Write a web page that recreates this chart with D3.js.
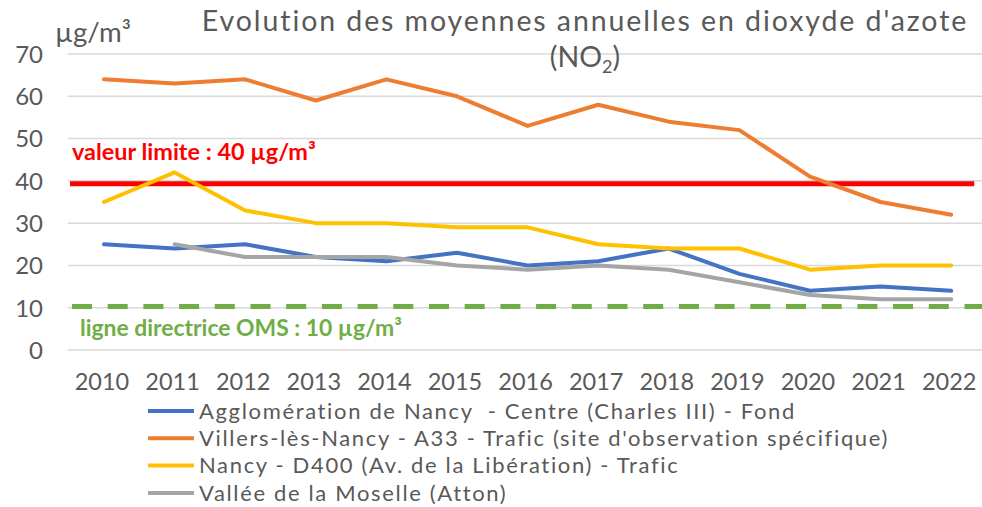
<!DOCTYPE html>
<html><head><meta charset="utf-8">
<script src="https://cdn.jsdelivr.net/npm/d3@7"></script>
<style>
html,body{margin:0;padding:0;background:#fff;}
svg{display:block;font-family:Lato, "Open Sans", sans-serif;}
</style></head>
<body>
<svg id="chart" width="982" height="507"></svg>
<script>
const years = ["2010","2011","2012","2013","2014","2015","2016","2017","2018","2019","2020","2021","2022"];
const yTicks = [0,10,20,30,40,50,60,70];
const seriesNames = [
  "Agglomération de Nancy  - Centre (Charles III) - Fond",
  "Villers-lès-Nancy - A33 - Trafic (site d'observation spécifique)",
  "Nancy - D400 (Av. de la Libération) - Trafic",
  "Vallée de la Moselle (Atton)"
];
const agglomerationNancy = [25,24,25,22,21,23,20,21,24,18,14,15,14];
const villersA33 = [64,63,64,59,64,60,53,58,54,52,41,35,32];
const nancyD400 = [35,42,33,30,30,29,29,25,24,24,19,20,20];
const valleeMoselle = [null,25,22,22,22,20,19,20,19,16,13,12,12];
const seriesColors = ["#4472C4","#ED7D31","#FFC000","#A5A5A5"];
const limitValue = 39.3;   // drawn reference line (label 40)
const omsValue = 10.3;     // drawn reference line (label 10)
const limitLabel = "valeur limite : 40 µg/m³";
const omsLabel = "ligne directrice OMS : 10 µg/m³";

const allSeries = [agglomerationNancy, villersA33, nancyD400, valleeMoselle];

const svg = d3.select("#chart");
const plotL = 68.7, plotR = 986.5, plotT = 54, plotB = 350;
const x = d3.scaleBand().domain(years).range([plotL, plotR]).padding(0);
const cx = d => x(d) + x.bandwidth()/2;
const y = d3.scaleLinear().domain([0,70]).range([plotB, plotT]);

function fit(sel, w){
  const n = sel.node();
  const fs = parseFloat(sel.attr("font-size"));
  const len = n.getComputedTextLength();
  sel.attr("font-size", fs * w / len);
}
function spread(sel, w, text){
  const len = sel.node().getComputedTextLength();
  sel.attr("letter-spacing", Math.max(0, (w - len) / (text.length - 1)));
}

// grid
svg.append("g").selectAll("line").data(yTicks).join("line")
  .attr("x1", plotL - 1).attr("x2", 982)
  .attr("y1", d => y(d)).attr("y2", d => y(d))
  .attr("stroke", "#d9d9d9").attr("stroke-width", 1.5);

// y axis labels
const yAxis = svg.append("g").attr("transform", "translate(43,0)")
  .call(d3.axisLeft(y).tickValues(yTicks).tickSize(0).tickPadding(0));
yAxis.select(".domain").remove();
yAxis.selectAll("text").attr("font-size", 24).attr("fill", "#595959")
  .attr("font-family", "Lato").attr("dy", "0.35em");

// x axis labels
const xAxis = svg.append("g").attr("transform", `translate(0,${plotB})`)
  .call(d3.axisBottom(x).tickSize(0).tickPadding(0));
xAxis.select(".domain").remove();
xAxis.selectAll("text").attr("font-size", 23.5).attr("fill", "#595959")
  .attr("font-family", "Lato").attr("y", 0).attr("dy", 0)
  .attr("transform", "translate(-2,40)");

// reference lines
svg.append("line").attr("x1", 70).attr("x2", cx("2022") + 23)
  .attr("y1", y(limitValue)).attr("y2", y(limitValue))
  .attr("stroke", "#FF0000").attr("stroke-width", 5);
svg.append("line").attr("x1", 72).attr("x2", 990)
  .attr("y1", y(omsValue)).attr("y2", y(omsValue))
  .attr("stroke", "#70AD47").attr("stroke-width", 5)
  .attr("stroke-dasharray", "20,15.7");

// series lines
const line = d3.line().defined(d => d.v != null)
  .x(d => cx(d.year)).y(d => y(d.v));
allSeries.forEach((s, i) => {
  svg.append("path")
    .datum(years.map((yr, j) => ({year: yr, v: s[j]})))
    .attr("d", line).attr("fill", "none")
    .attr("stroke", seriesColors[i]).attr("stroke-width", 4)
    .attr("stroke-linejoin", "round").attr("stroke-linecap", "round");
});

// reference labels
const lt = svg.append("text").attr("x", 72).attr("y", 160)
  .attr("font-size", 19).attr("font-weight", "bold").attr("fill", "#FF0000")
  .text(limitLabel);
fit(lt, 244);
const ot = svg.append("text").attr("x", 80).attr("y", 336)
  .attr("font-size", 19).attr("font-weight", "bold").attr("fill", "#70AD47")
  .text(omsLabel);
fit(ot, 322);

// unit label
const ul = svg.append("text").attr("x", 55).attr("y", 42)
  .attr("font-size", 22).attr("fill", "#595959").text("µg/m³");
fit(ul, 76);

// title
const title1 = "Evolution des moyennes annuelles en dioxyde d'azote";
const t1 = svg.append("text").attr("x", 585).attr("y", 31)
  .attr("text-anchor", "middle").attr("font-size", 28.5).attr("fill", "#595959")
  .text(title1);
spread(t1, 765, title1);
const t2 = svg.append("text").attr("x", 585).attr("y", 67)
  .attr("text-anchor", "middle").attr("font-size", 28.5).attr("fill", "#595959");
t2.append("tspan").text("(NO");
t2.append("tspan").attr("font-size", 18).attr("dy", 6).text("2");
t2.append("tspan").attr("dy", -6).text(")");

// legend
const lg = svg.append("g");
const legendTexts = [];
seriesNames.forEach((name, i) => {
  const yy = 411 + i * 27.3;
  lg.append("line").attr("x1", 148).attr("x2", 194).attr("y1", yy).attr("y2", yy)
    .attr("stroke", seriesColors[i]).attr("stroke-width", 4);
  const tx = lg.append("text").attr("x", 199).attr("y", yy).attr("dy", "0.35em")
    .attr("font-size", 22).attr("fill", "#595959").attr("xml:space", "preserve").text(name);
  legendTexts.push(tx);
});
const ref = legendTexts[1];
const ls = (688 - ref.node().getComputedTextLength()) / (seriesNames[1].length - 1);
legendTexts.forEach(t => t.attr("letter-spacing", Math.max(0, ls)));
</script>
</body></html>
